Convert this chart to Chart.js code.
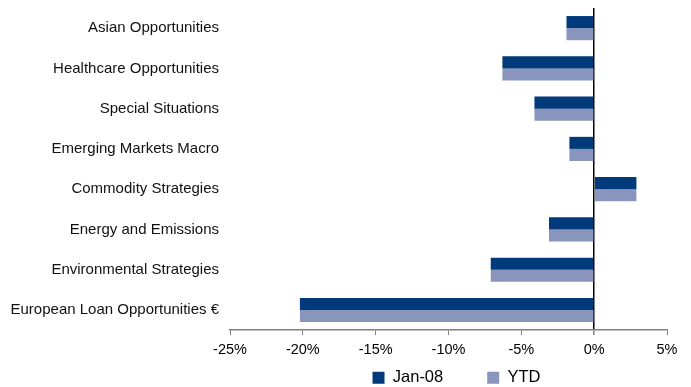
<!DOCTYPE html>
<html>
<head>
<meta charset="utf-8">
<script src="https://cdn.jsdelivr.net/npm/chart.js@4"></script>
<style>
    html, body { margin: 0; padding: 0; background: #fff; }
    #wrap { width: 691px; height: 387px; }
</style>
</head>
<body>
<div id="wrap"><canvas id="fundChart" width="691" height="387"></canvas></div>
<script>
// fund names, top to bottom
const funds = [
    'Asian Opportunities',
    'Healthcare Opportunities',
    'Special Situations',
    'Emerging Markets Macro',
    'Commodity Strategies',
    'Energy and Emissions',
    'Environmental Strategies',
    'European Loan Opportunities €'
];

// returns in %
const jan08 = [-1.9, -6.3, -4.1, -1.7, 2.9, -3.1, -7.1, -20.2];
const ytd = [-1.9, -6.3, -4.1, -1.7, 2.9, -3.1, -7.1, -20.2];

const xTicks = [-25, -20, -15, -10, -5, 0, 5];

const darkBlue = '#003A7A';
const lightBlue = '#8A95BE';

const fontName = '"Liberation Sans", Arial, sans-serif';

// legend keeps its wide item gap but is pulled up under the plot
const legendShift = {
    id: 'legendShift',
    afterLayout(chart) {
        const lg = chart.legend;
        if (!lg) return;
        lg.top -= 39;
        lg.bottom -= 39;
        lg.left += 123;
        lg.right += 123;
    }
};

const dataFunds = {
    labels: funds,
    datasets: [{
        label: 'Jan-08',
        data: jan08,
        backgroundColor: darkBlue,
        borderWidth: 0
    }, {
        label: 'YTD',
        data: ytd,
        backgroundColor: lightBlue,
        borderWidth: 0
    }]
};

const configFunds = {
    type: 'bar',
    data: dataFunds,
    plugins: [legendShift],
    options: {
        indexAxis: 'y',
        responsive: false,
        animation: false,
        categoryPercentage: 0.6,
        barPercentage: 1.0,
        layout: {
            padding: { top: 8, right: 24, left: 0, bottom: -48 }
        },
        scales: {
            x: {
                min: xTicks[0],
                max: xTicks[xTicks.length - 1],
                afterBuildTicks: function(scale) {
                    scale.ticks = xTicks.map(v => ({ value: v }));
                },
                grid: {
                    drawOnChartArea: true,
                    drawTicks: true,
                    tickLength: 5,
                    // only the zero line shows in the plot
                    color: ctx => (ctx.tick && ctx.tick.value === 0) ? '#000000' : 'rgba(0,0,0,0)',
                    lineWidth: ctx => (ctx.tick && ctx.tick.value === 0) ? 1.5 : 1,
                    tickColor: '#808080'
                },
                border: { display: true, color: '#808080', width: 1.5 },
                ticks: {
                    color: '#000',
                    padding: 6,
                    maxRotation: 0,
                    font: { family: fontName, size: 14.5 },
                    callback: value => value + '%'
                }
            },
            y: {
                afterFit: function(scale) {
                    scale.width = 230;
                    // no extra room above/below the first and last rows
                    scale.paddingTop = 0;
                    scale.paddingBottom = 0;
                },
                grid: { display: false, drawTicks: false },
                border: { display: false },
                ticks: {
                    color: '#111',
                    padding: 11,
                    font: { family: fontName, size: 15 }
                }
            }
        },
        plugins: {
            tooltip: { enabled: false },
            legend: {
                position: 'bottom',
                labels: {
                    boxWidth: 12,
                    boxHeight: 12,
                    padding: 44,
                    color: '#000',
                    font: { family: fontName, size: 16.5 }
                }
            }
        }
    }
};

const myFundChart = new Chart(
    document.getElementById('fundChart'),
    configFunds
);
</script>
</body>
</html>
